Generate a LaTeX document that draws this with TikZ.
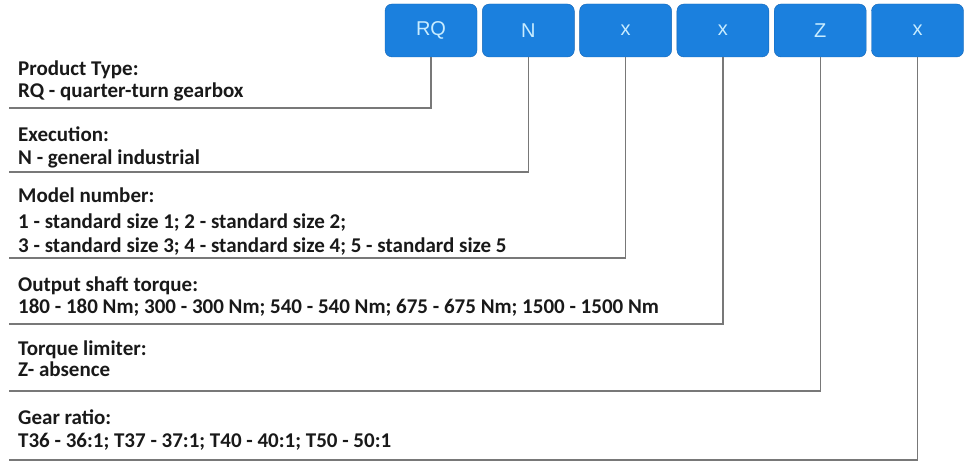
\documentclass[tikz,border=0pt]{standalone}
\usepackage{fontspec}
\usepackage{xcolor}
\setmainfont{Carlito}
\newfontfamily\codefont{Liberation Sans}
\definecolor{codeblue}{RGB}{27,128,222}
\definecolor{codeedge}{RGB}{20,100,180}
\definecolor{codetext}{RGB}{200,236,255}
\definecolor{desctext}{RGB}{25,25,25}
\definecolor{leadgrey}{RGB}{120,120,120}

\begin{document}
\begin{tikzpicture}[x=1pt, y=-1pt,
			code/.style={draw=codeedge, fill=codeblue, rounded corners=7pt, minimum width=92pt, minimum height=53pt, text=codetext, font=\codefont\fontsize{20}{20}\selectfont},
			desc/.style={anchor=base west, inner sep=0pt, text=desctext, font=\bfseries\fontsize{21}{24}\selectfont},
			lead/.style={draw=leadgrey, line width=1.2pt}]
			\useasboundingbox (0,0) rectangle (969,462);
			
			% code boxes
			\foreach \lbl [count=\i] in {RQ,N,x,x,Z,x}
				\node[code] (b\i) at ({431+97.3*(\i-1)},30.5) {\lbl};
			
			% leader lines
			\foreach \y [count=\i] in {108,172,258,324,391,460} {
				\coordinate (l\i) at (9,\y);
				\draw[lead] (b\i.south) |- (l\i);
			}
			
			% descriptions
			\node[desc] (t1a) at (18,76) {Product Type:};
			\node[desc] (t1b) at (18,98) {RQ - quarter-turn gearbox};
			\node[desc] (t2a) at (18,142) {Execution:};
			\node[desc] (t2b) at (18,165) {N - general industrial};
			\node[desc] (t3a) at (18,203) {Model number:};
			\node[desc] (t3b) at (18,229) {1 - standard size 1; 2 - standard size 2;};
			\node[desc] (t3c) at (18,253) {3 - standard size 3; 4 - standard size 4; 5 - standard size 5};
			\node[desc] (t4a) at (18,291) {Output shaft torque:};
			\node[desc] (t4b) at (18,313) {180 - 180 Nm; 300 - 300 Nm; 540 - 540 Nm; 675 - 675 Nm; 1500 - 1500 Nm};
			\node[desc] (t5a) at (18,355) {Torque limiter:};
			\node[desc] (t5b) at (18,376) {Z- absence};
			\node[desc] (t6a) at (18,424) {Gear ratio:};
			\node[desc] (t6b) at (18,447) {T36 - 36:1; T37 - 37:1; T40 - 40:1; T50 - 50:1};
		\end{tikzpicture}
\end{document}
